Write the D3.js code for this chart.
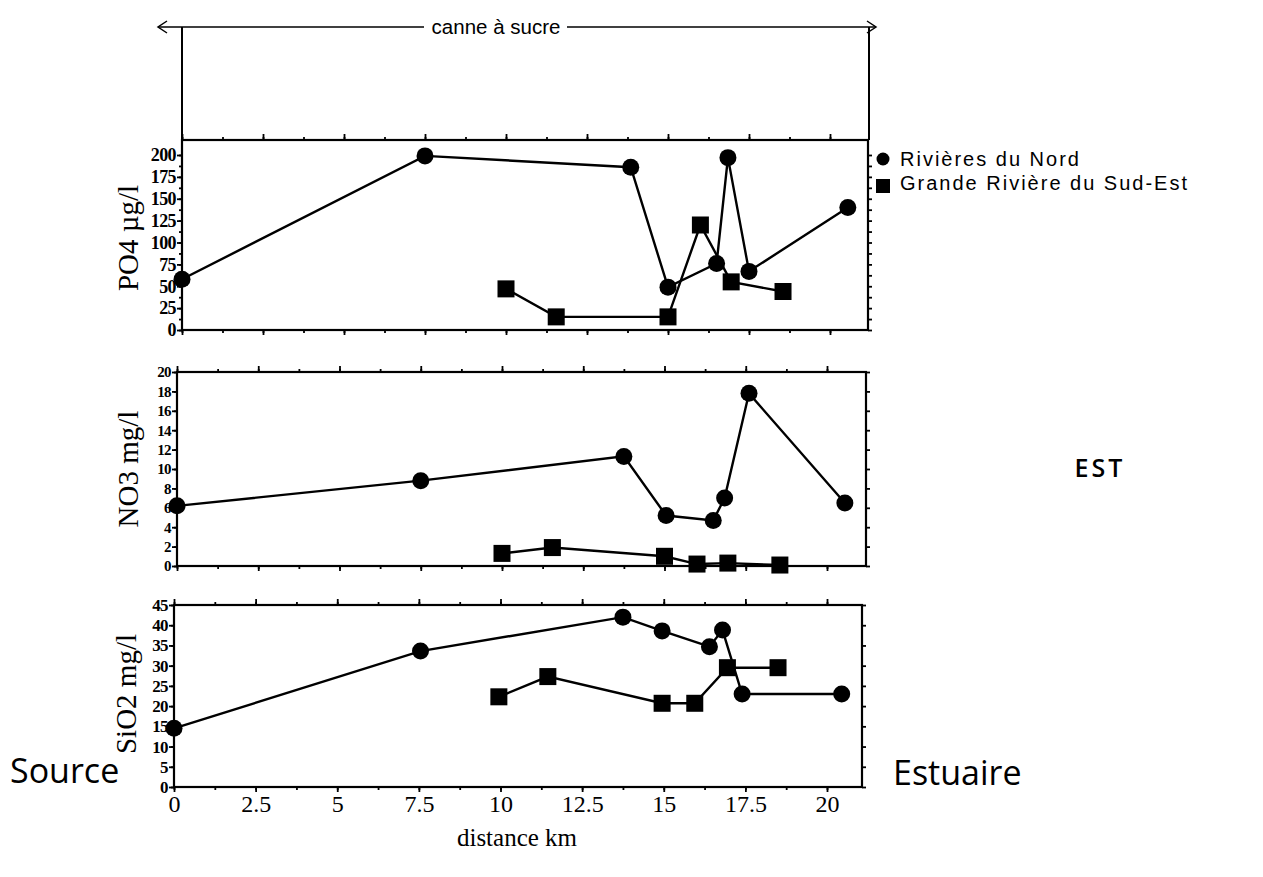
<!DOCTYPE html>
<html>
<head>
<meta charset="utf-8">
<script src="https://cdn.jsdelivr.net/npm/d3@7"></script>
<style>
  html, body { margin: 0; padding: 0; background: #fff; }
  svg { display: block; }
</style>
</head>
<body>
<svg id="chart" width="1263" height="877"></svg>
<script>
// ---------------- DATA ----------------
const xTickValues = [0, 2.5, 5, 7.5, 10, 12.5, 15, 17.5, 20];
const seriesNames = ["Rivières du Nord", "Grande Rivière du Sud-Est"];

// PO4 (µg/l)
const po4NordX = [0, 7.5, 13.85, 15.0, 16.5, 16.85, 17.5, 20.55];
const po4NordY = [58, 199, 186, 49, 76, 197, 67, 140];
const po4SudX  = [10.0, 11.55, 15.0, 16.0, 16.95, 18.55];
const po4SudY  = [47, 15, 15, 120, 55, 44];
const po4Ticks = [0, 25, 50, 75, 100, 125, 150, 175, 200];

// NO3 (mg/l)
const no3NordX = [0, 7.5, 13.75, 15.05, 16.5, 16.85, 17.6, 20.55];
const no3NordY = [6.2, 8.8, 11.3, 5.2, 4.7, 7.0, 17.8, 6.5];
const no3SudX  = [10.0, 11.55, 15.0, 16.0, 16.95, 18.55];
const no3SudY  = [1.3, 1.9, 1.0, 0.2, 0.3, 0.1];
const no3Ticks = [0, 2, 4, 6, 8, 10, 12, 14, 16, 18, 20];

// SiO2 (mg/l)
const sio2NordX = [0, 7.55, 13.75, 14.95, 16.4, 16.8, 17.4, 20.45];
const sio2NordY = [14.5, 33.6, 42.0, 38.6, 34.7, 38.8, 23.0, 23.0];
const sio2SudX  = [9.95, 11.45, 14.95, 15.95, 16.95, 18.5];
const sio2SudY  = [22.3, 27.3, 20.7, 20.7, 29.5, 29.5];
const sio2Ticks = [0, 5, 10, 15, 20, 25, 30, 35, 40, 45];

// ---------------- LAYOUT ----------------
const svg = d3.select("#chart");
const serif = "'Liberation Serif', 'DejaVu Serif', serif";
const sans = "'Liberation Sans', Arial, sans-serif";

const panels = [
  { label: "PO4 µg/l", nordX: po4NordX, nordY: po4NordY, sudX: po4SudX, sudY: po4SudY,
    ticks: po4Ticks, minor: d3.range(0, 212.5, 12.5), ymax: 200, tickFont: 18,
    x0: 182, x20: 830, right: 868, yTop: 140, yMaxPx: 155, yZeroPx: 330, labelX: 131, labelY: 238 },
  { label: "NO3 mg/l", nordX: no3NordX, nordY: no3NordY, sudX: no3SudX, sudY: no3SudY,
    ticks: no3Ticks, minor: no3Ticks, ymax: 20, tickFont: 15,
    x0: 177, x20: 827, right: 866, yTop: 372, yMaxPx: 372, yZeroPx: 566, labelX: 131, labelY: 469 },
  { label: "SiO2 mg/l", nordX: sio2NordX, nordY: sio2NordY, sudX: sio2SudX, sudY: sio2SudY,
    ticks: sio2Ticks, minor: sio2Ticks, ymax: 45, tickFont: 17,
    x0: 174, x20: 827, right: 862, yTop: 605, yMaxPx: 605, yZeroPx: 787, labelX: 129, labelY: 694, xLabels: true }
];

const xMinor = d3.range(0, 21.25, 1.25);

// ---------------- TOP PANEL ----------------
const topG = svg.append("g");
topG.append("line").attr("x1", 182).attr("x2", 182).attr("y1", 27).attr("y2", 140)
  .attr("stroke", "#000").attr("stroke-width", 2);
topG.append("line").attr("x1", 869).attr("x2", 869).attr("y1", 27).attr("y2", 140)
  .attr("stroke", "#000").attr("stroke-width", 2);
topG.append("line").attr("x1", 158).attr("x2", 424).attr("y1", 27).attr("y2", 27)
  .attr("stroke", "#000").attr("stroke-width", 1.5);
topG.append("line").attr("x1", 567).attr("x2", 876).attr("y1", 27).attr("y2", 27)
  .attr("stroke", "#000").attr("stroke-width", 1.5);
topG.append("path").attr("d", "M167,21 L158,27 L167,33").attr("fill", "none")
  .attr("stroke", "#000").attr("stroke-width", 1.5);
topG.append("path").attr("d", "M867,21 L876,27 L867,33").attr("fill", "none")
  .attr("stroke", "#000").attr("stroke-width", 1.5);
topG.append("text").attr("x", 496).attr("y", 34).attr("text-anchor", "middle")
  .attr("font-family", sans).attr("font-size", 20.5).text("canne à sucre");

// ---------------- DATA PANELS ----------------
panels.forEach(p => {
  const x = d3.scaleLinear().domain([0, 20]).range([p.x0, p.x20]);
  const y = d3.scaleLinear().domain([0, p.ymax]).range([p.yZeroPx, p.yMaxPx]);
  const g = svg.append("g");

  g.append("rect").attr("x", p.x0).attr("y", p.yTop)
    .attr("width", p.right - p.x0).attr("height", p.yZeroPx - p.yTop)
    .attr("fill", "none").attr("stroke", "#000").attr("stroke-width", 2.2);

  const xb = g.append("g").attr("transform", `translate(0,${p.yZeroPx})`)
    .call(d3.axisBottom(x).tickValues(xTickValues).tickSize(5)
      .tickFormat(p.xLabels ? (d => String(d)) : "").tickPadding(3));
  const xbm = g.append("g").attr("transform", `translate(0,${p.yZeroPx})`)
    .call(d3.axisBottom(x).tickValues(xMinor).tickSize(3).tickFormat(""));
  const xt = g.append("g").attr("transform", `translate(0,${p.yTop})`)
    .call(d3.axisTop(x).tickValues(xTickValues).tickSize(6).tickFormat(""));
  const xtm = g.append("g").attr("transform", `translate(0,${p.yTop})`)
    .call(d3.axisTop(x).tickValues(xMinor).tickSize(3).tickFormat(""));

  const yl = g.append("g").attr("transform", `translate(${p.x0},0)`)
    .call(d3.axisLeft(y).tickValues(p.ticks).tickSize(5).tickPadding(1).tickFormat(d => String(d)));
  const ylm = g.append("g").attr("transform", `translate(${p.x0},0)`)
    .call(d3.axisLeft(y).tickValues(p.minor).tickSize(3).tickFormat(""));
  const yr = g.append("g").attr("transform", `translate(${p.right},0)`)
    .call(d3.axisRight(y).tickValues(p.minor).tickSize(4).tickFormat(""));

  [xb, xbm, xt, xtm, yl, ylm, yr].forEach(a => {
    a.select(".domain").remove();
    a.selectAll(".tick line").attr("stroke", "#000").attr("stroke-width", 1.8);
  });
  yl.selectAll(".tick text").attr("font-family", serif).attr("font-size", p.tickFont)
    .attr("font-weight", "bold").attr("letter-spacing", -0.6).attr("fill", "#000");
  if (p.xLabels) {
    xb.selectAll(".tick text").attr("font-family", serif).attr("font-size", 24).attr("fill", "#000");
  }

  g.append("text").attr("transform", `translate(${p.labelX},${p.labelY}) rotate(-90)`)
    .attr("text-anchor", "middle").attr("dominant-baseline", "middle")
    .attr("font-family", serif).attr("font-size", 29).text(p.label);

  const line = d3.line().x(d => x(d[0])).y(d => y(d[1]));
  const nord = p.nordX.map((v, i) => [v, p.nordY[i]]);
  const sud = p.sudX.map((v, i) => [v, p.sudY[i]]);

  g.append("path").datum(nord).attr("d", line).attr("fill", "none")
    .attr("stroke", "#000").attr("stroke-width", 2.4);
  g.append("path").datum(sud).attr("d", line).attr("fill", "none")
    .attr("stroke", "#000").attr("stroke-width", 2.4);

  g.selectAll("circle.n").data(nord).enter().append("circle")
    .attr("cx", d => x(d[0])).attr("cy", d => y(d[1])).attr("r", 8.5).attr("fill", "#000");
  g.selectAll("rect.s").data(sud).enter().append("rect")
    .attr("x", d => x(d[0]) - 8.5).attr("y", d => y(d[1]) - 8.5)
    .attr("width", 17).attr("height", 17).attr("fill", "#000");
});

svg.append("text").attr("x", 517).attr("y", 846).attr("text-anchor", "middle")
  .attr("font-family", serif).attr("font-size", 25).text("distance km");

// ---------------- LEGEND ----------------
const leg = svg.append("g");
leg.append("circle").attr("cx", 883).attr("cy", 159).attr("r", 6.5).attr("fill", "#000");
leg.append("text").attr("x", 900).attr("y", 166).attr("font-family", sans).attr("font-size", 20)
  .attr("letter-spacing", 2).text(seriesNames[0]);
leg.append("rect").attr("x", 876).attr("y", 179).attr("width", 14).attr("height", 14).attr("fill", "#000");
leg.append("text").attr("x", 900).attr("y", 190).attr("font-family", sans).attr("font-size", 20)
  .attr("letter-spacing", 2).text(seriesNames[1]);

// ---------------- SIDE LABELS ----------------
svg.append("text").attr("x", 1100).attr("y", 477).attr("text-anchor", "middle")
  .attr("font-family", "'Open Sans', sans-serif").attr("font-weight", 600)
  .attr("font-size", 25).attr("letter-spacing", 3).text("EST");
svg.append("text").attr("x", 10).attr("y", 783)
  .attr("font-family", "'Open Sans', sans-serif").attr("font-size", 34).text("Source");
svg.append("text").attr("x", 893).attr("y", 785)
  .attr("font-family", "'Open Sans', sans-serif").attr("font-size", 34).text("Estuaire");
</script>
</body>
</html>
